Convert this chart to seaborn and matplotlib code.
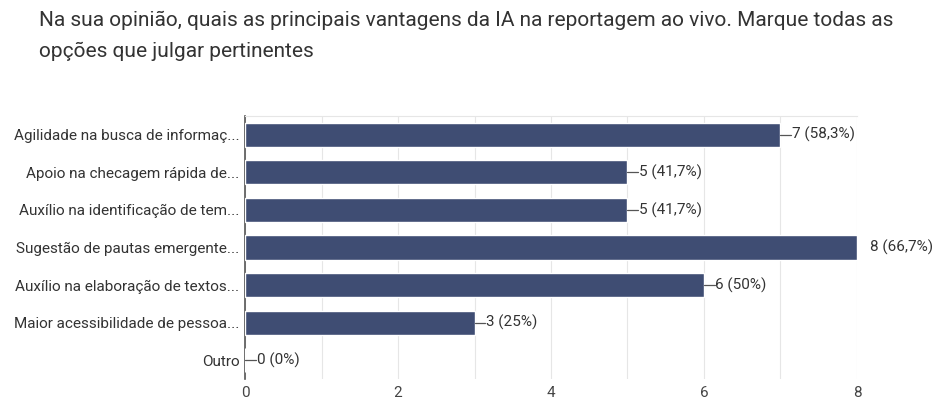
import matplotlib
matplotlib.use("Agg")
import matplotlib.pyplot as plt
import seaborn as sns
import pandas as pd
from matplotlib.ticker import MultipleLocator

categories = [
    "Agilidade na busca de informaç...",
    "Apoio na checagem rápida de...",
    "Auxílio na identificação de tem...",
    "Sugestão de pautas emergente...",
    "Auxílio na elaboração de textos...",
    "Maior acessibilidade de pessoa...",
    "Outro",
]
counts = [7, 5, 5, 8, 6, 3, 0]
percents = ["58,3%", "41,7%", "41,7%", "66,7%", "50%", "25%", "0%"]
xticks = [0, 2, 4, 6, 8]

title = ("Na sua opinião, quais as principais vantagens da IA na reportagem ao vivo. Marque todas as\n"
         "opções que julgar pertinentes")

sns.set_theme(style="white")
plt.rcParams["font.family"] = ["Roboto", "DejaVu Sans"]

df = pd.DataFrame({"cat": categories, "n": counts})

fig = plt.figure(figsize=(9.41, 4.01), dpi=100)
ax = fig.add_axes([0.2604, 0.0549, 0.6503, 0.6558])

sns.barplot(data=df, y="cat", x="n", orient="h", color="#3f4d73",
            saturation=1, width=0.64, ax=ax, zorder=3)

for i, (c, p) in enumerate(zip(counts, percents)):
    label = f"{c} ({p})"
    if c >= 8:
        ax.text(c + 0.17, i, label, va="center", ha="left", fontsize=11, color="#333333")
    else:
        ax.plot([c, c + 0.14], [i, i], color="#555555", linewidth=0.9, zorder=4, clip_on=False)
        ax.text(c + 0.15, i, label, va="center", ha="left", fontsize=11, color="#333333")

ax.set_xlim(0, 8)
ax.set_ylim(len(categories) - 0.5, -0.5)
ax.set_xticks(xticks)
ax.xaxis.set_minor_locator(MultipleLocator(1))
ax.grid(True, axis="x", which="both", color="#e6e6e6", linewidth=0.8, zorder=0)
ax.set_axisbelow(True)
ax.set_xlabel("")
ax.set_ylabel("")
for s in ["right", "bottom"]:
    ax.spines[s].set_visible(False)
ax.spines["top"].set_color("#e6e6e6")
ax.spines["top"].set_linewidth(0.8)
ax.spines["left"].set_color("#555555")
ax.spines["left"].set_linewidth(1.2)
ax.tick_params(axis="y", length=0, pad=4, labelsize=11, labelcolor="#333333")
ax.tick_params(axis="x", length=0, pad=5, labelsize=11, labelcolor="#444444")

fig.text(0.041, 0.972, title, ha="left", va="top", fontsize=15, color="#333333",
         linespacing=1.75)

fig.savefig("out.png", dpi=100)
